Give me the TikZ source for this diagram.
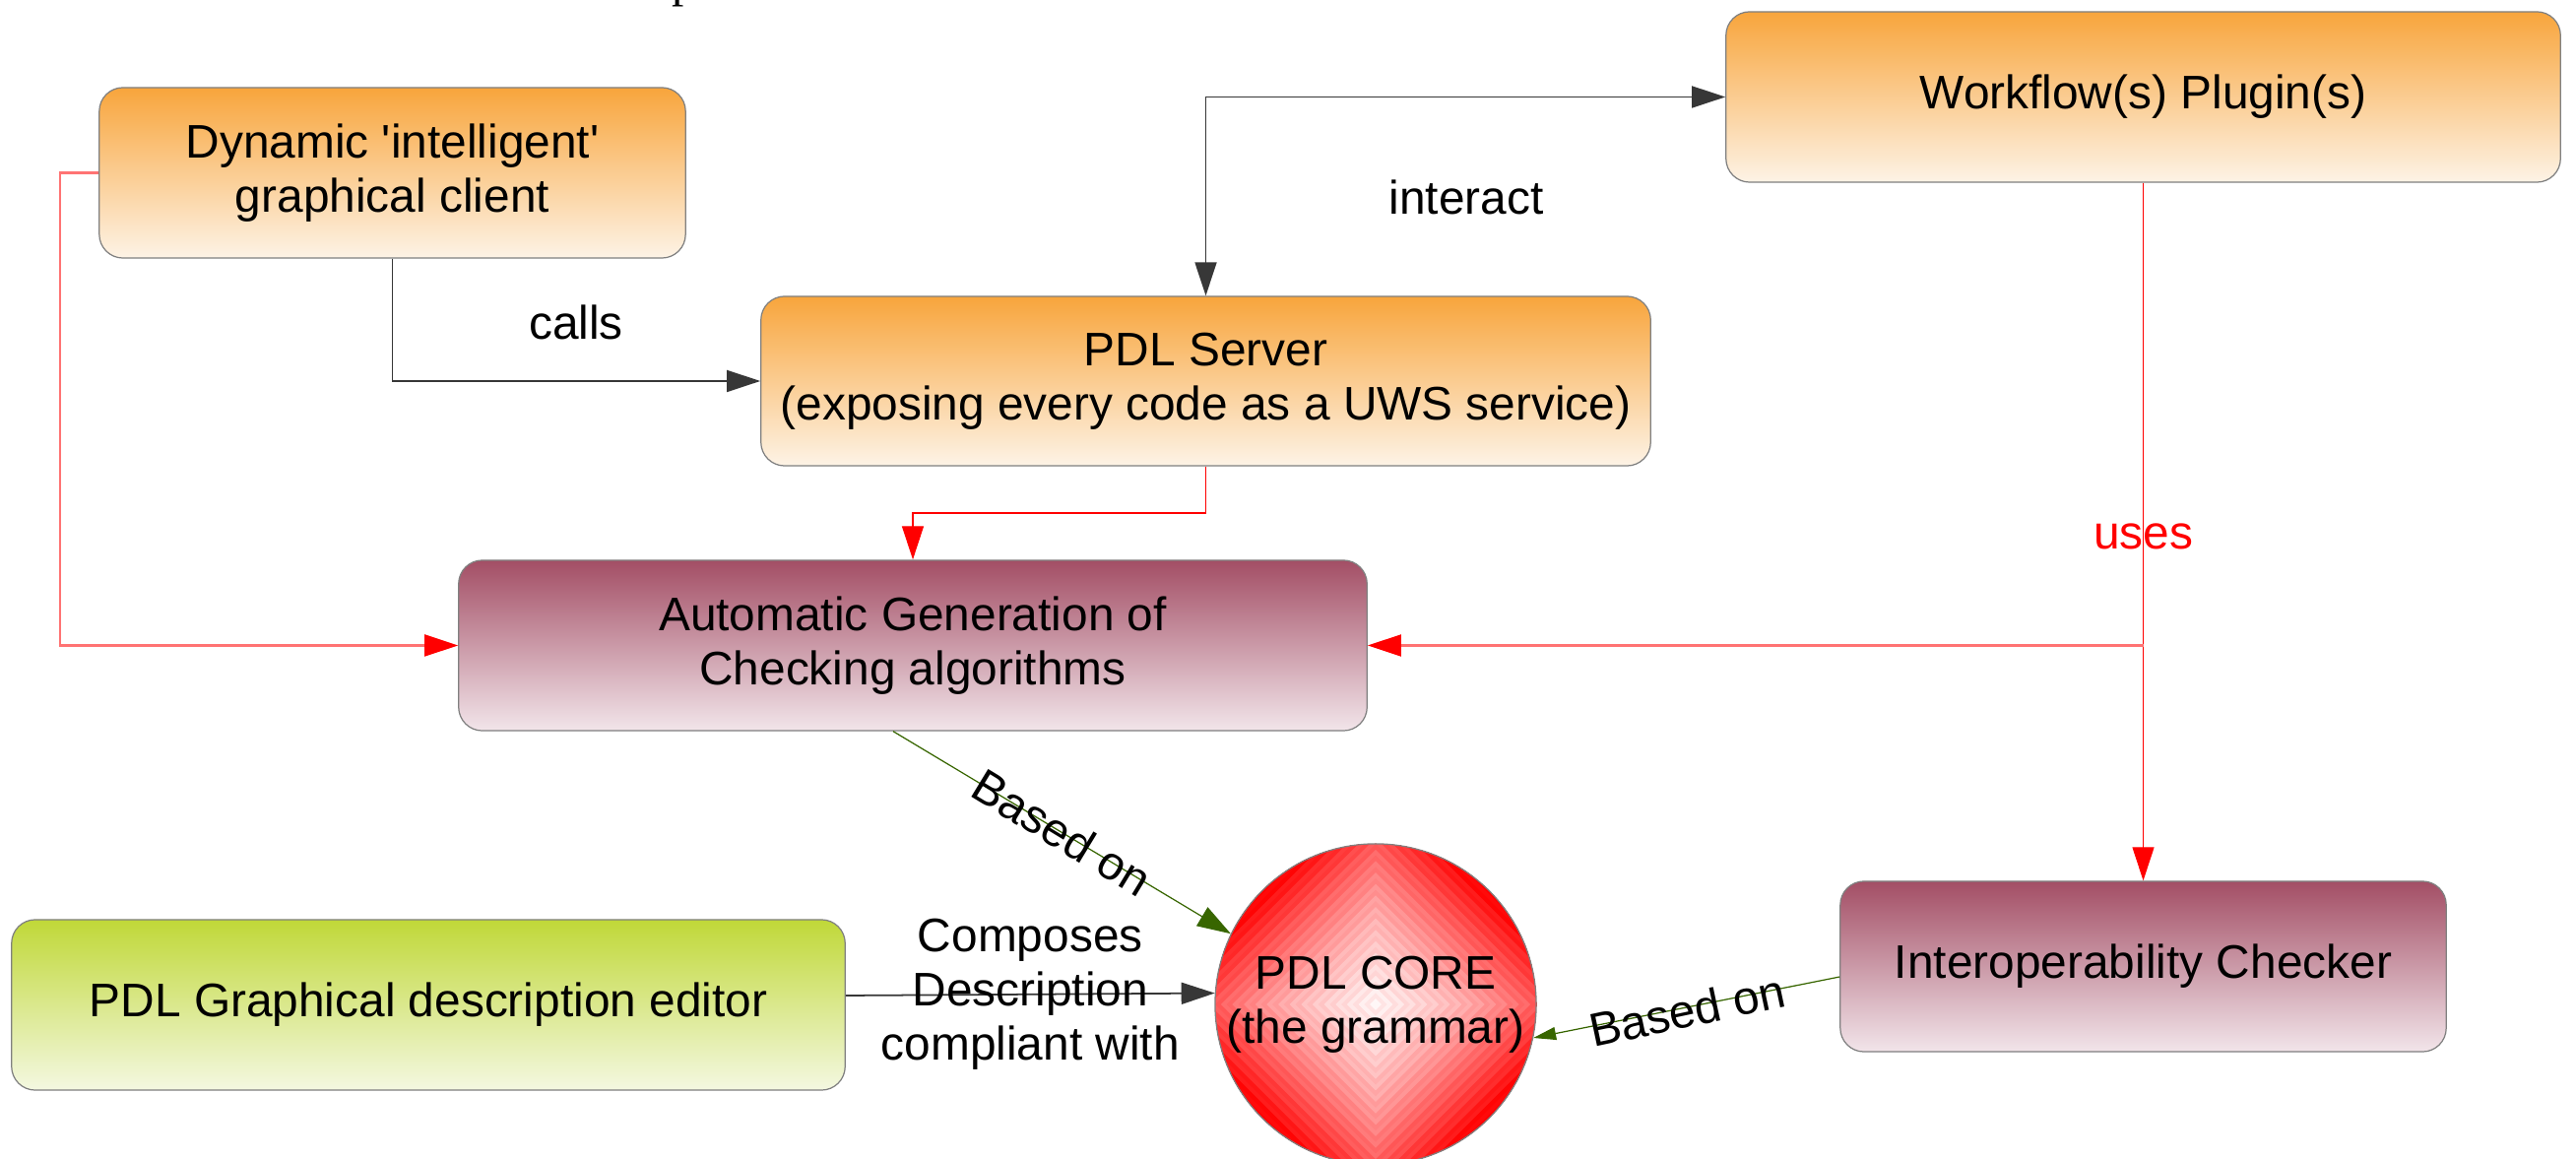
\documentclass[tikz,border=0pt]{standalone}
\usepackage{fontspec}
\setmainfont{Liberation Sans}
\newfontfamily\pserif{Liberation Serif}
\usetikzlibrary{arrows.meta,calc}

% fills and line colours
\definecolor{orgtop}{RGB}{248,165,60}
\definecolor{orgbot}{RGB}{253,243,230}
\definecolor{martop}{RGB}{163,78,101}
\definecolor{marbot}{RGB}{242,229,234}
\definecolor{grntop}{RGB}{192,216,56}
\definecolor{grnbot}{RGB}{244,248,225}
\definecolor{boxedge}{RGB}{128,128,128}
\definecolor{linkgray}{RGB}{55,55,55}
\definecolor{linkgreen}{RGB}{56,102,0}

\newcommand\boxfont{\fontsize{13.6pt}{15.6pt}\selectfont}

\tikzset{
  box/.style={rectangle, rounded corners=0.24cm, draw=boxedge, line width=0.35pt,
              inner sep=0pt, align=center, font=\boxfont},
  orangebox/.style={box, top color=orgtop, bottom color=orgbot},
  maroonbox/.style={box, top color=martop, bottom color=marbot},
  greenbox/.style={box, top color=grntop, bottom color=grnbot},
  lbl/.style={inner sep=0pt, align=center, font=\boxfont},
  blackline/.style={draw=linkgray, line width=0.5pt},
  redthin/.style={draw=red, line width=0.35pt},
  redsoft/.style={draw=red!55, line width=0.6pt},
  greenline/.style={draw=linkgreen, line width=0.35pt},
  bigtip/.style={-{Triangle[length=0.34cm,width=0.22cm]}},
  redtip/.style={-{Triangle[length=0.34cm,width=0.22cm,color=red]}},
  greentip/.style={-{Triangle[length=0.34cm,width=0.22cm,color=linkgreen]}},
  smallgreentip/.style={-{Triangle[length=0.23cm,width=0.13cm,color=linkgreen]}},
}

\begin{document}
\begin{tikzpicture}[x=0.01cm, y=-0.01cm]
  \useasboundingbox (0,0) rectangle (2616,1177);
  \fill[white] (0,0) rectangle (2616,1177);

  % foot of a letter from the text above
  \node[anchor=base west, inner sep=0pt, font=\pserif\fontsize{14pt}{14pt}\selectfont]
    (pfrag) at (682,-3) {p};

  % boxes
  \node[orangebox, minimum width=5.95cm, minimum height=1.73cm] (dyn) at (398.5,175.5)
    {Dynamic \textquotesingle intelligent\textquotesingle\\graphical client};
  \node[orangebox, minimum width=8.47cm, minimum height=1.73cm] (wf) at (2176.5,98.5)
    {Workflow(s) Plugin(s)};
  \node[orangebox, minimum width=9.03cm, minimum height=1.72cm] (srv) at (1224.5,387)
    {PDL Server\\(exposing every code as a UWS service)};
  \node[maroonbox, minimum width=9.22cm, minimum height=1.73cm] (auto) at (927,655.5)
    {Automatic Generation of\\Checking algorithms};
  \node[maroonbox, minimum width=6.15cm, minimum height=1.73cm] (interop) at (2176.5,981.5)
    {Interoperability Checker};
  \node[greenbox, minimum width=8.46cm, minimum height=1.73cm] (editor) at (435,1020.5)
    {PDL Graphical description editor};

  % core: fine diamond-banded red fill clipped to the disc
  \coordinate (corec) at (1397,1020);
  \begin{scope}
    \clip (corec) circle[radius=163];
    \foreach \k in {56,55,...,1}{
      \pgfmathsetmacro\bandd{\k*5.8214}
      \pgfmathsetmacro\bandt{\bandd/230}
      \pgfmathsetmacro\pc{max(0,min(100,4+96*(0.5*\bandt+0.5*\bandt*\bandt)+(mod(\k,2)==0 ? 4 : -2)))}
      \fill[red!\pc!white] (corec) ++(\bandd,0) -- ++(-\bandd,\bandd) -- ++(-\bandd,-\bandd)
        -- ++(\bandd,-\bandd) -- cycle;
    }
  \end{scope}
  \node[circle, draw=boxedge, line width=0.35pt, minimum size=3.26cm, inner sep=0pt,
        align=center, font=\boxfont] (core) at (corec) {PDL CORE\\(the grammar)};

  % free labels
  \node[lbl] (lcalls) at (585,327) {calls};
  \node[lbl] (linteract) at (1489,200) {interact};

  % connectors
  \draw[blackline, {Triangle[length=0.34cm,width=0.22cm]}-{Triangle[length=0.34cm,width=0.22cm]}]
    (wf.west) -| (srv.north);
  \draw[blackline, bigtip] (dyn.south) |- (srv.west);
  \draw[redthin, redtip] (srv.south) |- ($(srv.south)!.5!(auto.north)$) -| (auto.north);
  \draw[redsoft, redtip] (dyn.west) -- ++(-39,0) |- (auto.west);
  \draw[redthin, redtip] (wf.south) --
    node[lbl, pos=0.507, text=red] (luses) {uses} (interop.north);
  \coordinate (usesfork) at (wf.south |- auto.east);
  \draw[redsoft, redtip] (usesfork) -- (auto.east);
  \draw[greenline, greentip] ([xshift=-0.2cm]auto.south) --
    node[lbl, midway, rotate=-31.3] (lbased1) {Based on} (core.154.7);
  \draw[greenline, smallgreentip] ([yshift=-0.105cm]interop.west) --
    node[lbl, midway, rotate=12, yshift=-0.03cm] (lbased2) {Based on} (core.-12.6);
  \draw[blackline, bigtip] ([yshift=0.095cm]editor.east) --
    node[lbl, midway] (lcompose) {Composes\\Description\\compliant with} (core.176.8);
\end{tikzpicture}
\end{document}
